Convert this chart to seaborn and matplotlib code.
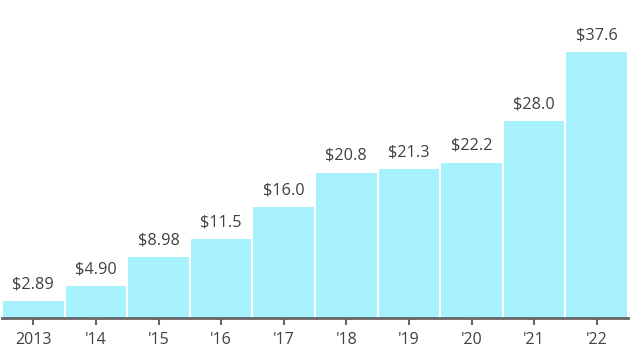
import matplotlib
matplotlib.use("Agg")
import matplotlib.pyplot as plt
import seaborn as sns
import pandas as pd

years = ["2013", "'14", "'15", "'16", "'17", "'18", "'19", "'20", "'21", "'22"]
values = [2.89, 4.90, 8.98, 11.5, 16.0, 20.8, 21.3, 22.2, 28.0, 37.6]
labels = ["$2.89", "$4.90", "$8.98", "$11.5", "$16.0", "$20.8", "$21.3", "$22.2", "$28.0", "$37.6"]

sns.set_style("white")
plt.rcParams['font.family'] = ['Open Sans', 'DejaVu Sans']

df = pd.DataFrame({"year": years, "value": values})

fig = plt.figure(figsize=(6.3, 3.52), dpi=100)
ax = fig.add_axes([2/630, 34/352, 626/630, 318/352])
sns.barplot(data=df, x="year", y="value", color="#a6f1fb", saturation=1,
            width=1.0, edgecolor="white", linewidth=1.5, ax=ax)

for i, (v, lab) in enumerate(zip(values, labels)):
    ax.annotate(lab, (i, v), xytext=(0, 5.5), textcoords="offset points",
                ha="center", va="bottom", fontsize=11.7, color="#404040")

ax.set_ylim(0.33, 44.8)
ax.set_xlim(-0.5, 9.5)
ax.set_xlabel("")
ax.set_ylabel("")
ax.set_yticks([])
for s in ["top", "right", "left"]:
    ax.spines[s].set_visible(False)
ax.spines["bottom"].set_color("#666666")
ax.spines["bottom"].set_linewidth(2)
ax.tick_params(axis="x", length=5, width=1.5, color="#666666", labelsize=11.5,
               labelcolor="#404040", pad=5, bottom=True)

fig.savefig("out.png", dpi=100)
